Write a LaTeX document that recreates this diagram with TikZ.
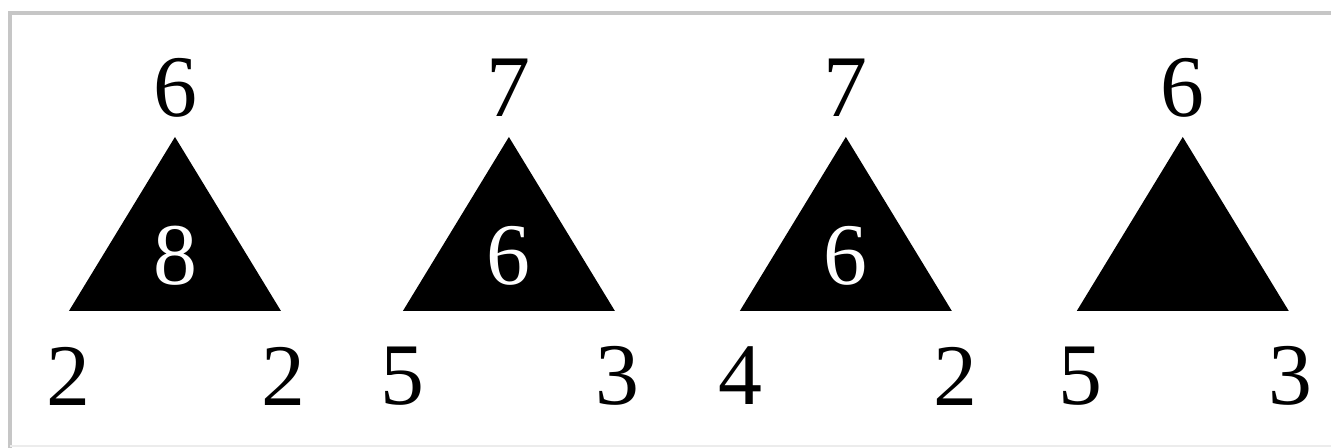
\documentclass[tikz,border=0pt]{standalone}
\usepackage{fontspec}
\setmainfont{Liberation Serif}
\usetikzlibrary{positioning}

\tikzset{
  num/.style={font=\fontsize{50}{50}\selectfont, inner sep=0pt},
  innum/.style={num, text=white},
  tri/.style={fill=black}
}

\begin{document}
\begin{tikzpicture}[x=0.02cm, y=-0.02cm]

  \useasboundingbox[fill=white] (0,0) rectangle (1331,448);

  % frame (top and left edge visible)
  \draw[gray!45, line width=2.5pt] (10,448) -- (10,13) -- (1331,13);
  \draw[gray!15, line width=1pt] (10,446) -- (1331,446);

  \def\w{106}   % half base
  \def\ya{137}  % apex
  \def\yb{311}  % base

  %% ── Triangle 1 ──────────────────────
  \begin{scope}[xshift=3.5cm]
    \fill[tri] (0,\ya) -- (\w,\yb) -- (-\w,\yb) -- cycle;
    \node[num]   (t1top) at (0,88)    {6};
    \node[innum] (t1mid) at (0,256)   {8};
    \node[num]   (t1l)   at (-107,376) {2};
    \node[num]   (t1r)   at (108,376) {2};
  \end{scope}

  %% ── Triangle 2 ──────────────────────
  \begin{scope}[xshift=10.18cm]
    \fill[tri] (0,\ya) -- (\w,\yb) -- (-\w,\yb) -- cycle;
    \node[num]   (t2top) at (0,88)    {7};
    \node[innum] (t2mid) at (0,256)   {6};
    \node[num]   (t2l)   at (-106,376) {5};
    \node[num]   (t2r)   at (109,376) {3};
  \end{scope}

  %% ── Triangle 3 ──────────────────────
  \begin{scope}[xshift=16.92cm]
    \fill[tri] (0,\ya) -- (\w,\yb) -- (-\w,\yb) -- cycle;
    \node[num]   (t3top) at (0,88)    {7};
    \node[innum] (t3mid) at (0,256)   {6};
    \node[num]   (t3l)   at (-105,376) {4};
    \node[num]   (t3r)   at (110,376) {2};
  \end{scope}

  %% ── Triangle 4 (blank) ──────────────
  \begin{scope}[xshift=23.66cm]
    \fill[tri] (0,\ya) -- (\w,\yb) -- (-\w,\yb) -- cycle;
    \node[num]   (t4top) at (0,88)    {6};
    \node[num]   (t4l)   at (-102,376) {5};
    \node[num]   (t4r)   at (108,376) {3};
  \end{scope}

\end{tikzpicture}
\end{document}
